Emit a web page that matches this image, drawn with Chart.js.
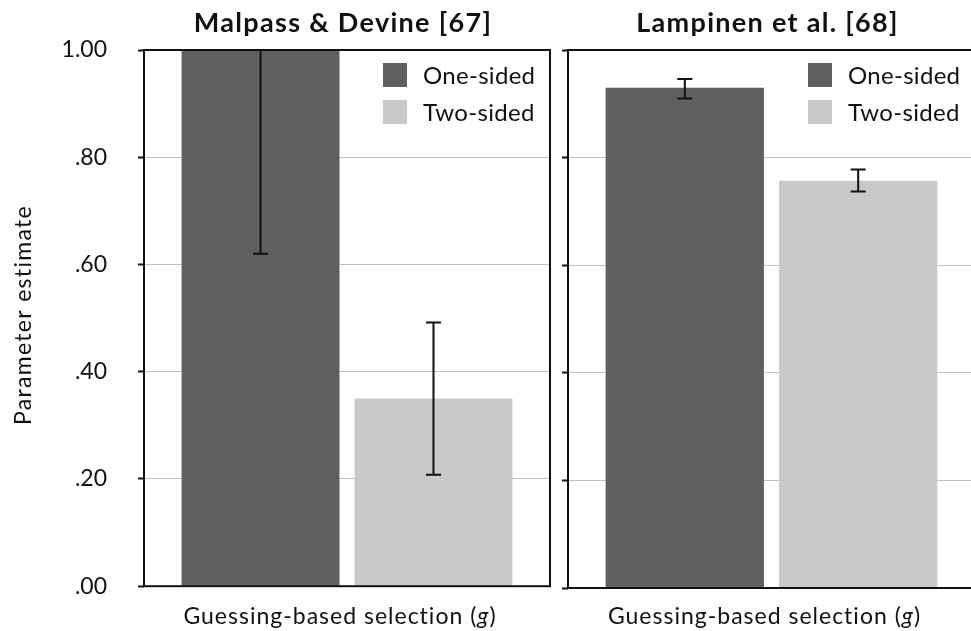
<!DOCTYPE html>
<html>
<head>
<meta charset="utf-8">
<script src="https://cdn.jsdelivr.net/npm/chart.js@4.4.0/dist/chart.umd.min.js"></script>
<style>
  html, body { margin: 0; padding: 0; background: #fff; }
  #wrap { position: relative; width: 971px; height: 631px; overflow: hidden; }
  .panel { position: absolute; top: 0; height: 631px; }
  #left { left: 0; width: 556px; }
  #right { left: 556px; width: 425px; }
</style>
</head>
<body>
<div id="wrap">
  <div class="panel" id="left"><canvas id="c1"></canvas></div>
  <div class="panel" id="right"><canvas id="c2"></canvas></div>
</div>
<script>
// data, index 0 = left panel, 1 = right panel
const panelTitles = ['Malpass & Devine [67]', 'Lampinen et al. [68]'];
const categories = ['Guessing-based selection (g)'];
const seriesNames = ['One-sided', 'Two-sided'];
const seriesColors = ['#606060', '#c9c9c9'];
const oneSidedMeans = [1.000, 0.930];
const twoSidedMeans = [0.350, 0.757];
const oneSidedLower = [0.620, 0.910];
const oneSidedUpper = [1.380, 0.946];
const twoSidedLower = [0.208, 0.737];
const twoSidedUpper = [0.492, 0.778];
const yTickValues = [0, 0.2, 0.4, 0.6, 0.8, 1.0];
const yTickLabels = ['.00', '.20', '.40', '.60', '.80', '1.00'];
const yTitle = 'Parameter estimate';

const FONT = 'Lato, "Noto Sans", sans-serif';
Chart.defaults.font.family = FONT;
Chart.defaults.color = '#111';

// error bars, clipped to the plot box
const errorBars = {
  id: 'errorBars',
  afterDatasetsDraw(chart) {
    const { ctx, chartArea: a, scales: { y } } = chart;
    ctx.save();
    ctx.beginPath();
    ctx.rect(a.left, a.top, a.right - a.left, a.bottom - a.top);
    ctx.clip();
    ctx.strokeStyle = '#111';
    ctx.lineWidth = 2;
    chart.data.datasets.forEach((ds, i) => {
      chart.getDatasetMeta(i).data.forEach((bar, j) => {
        const lo = y.getPixelForValue(ds.errLow[j]);
        const hi = y.getPixelForValue(ds.errHigh[j]);
        ctx.beginPath();
        ctx.moveTo(bar.x, lo); ctx.lineTo(bar.x, hi);
        ctx.moveTo(bar.x - 7.5, lo); ctx.lineTo(bar.x + 7.5, lo);
        ctx.moveTo(bar.x - 7.5, hi); ctx.lineTo(bar.x + 7.5, hi);
        ctx.stroke();
      });
    });
    ctx.restore();
  }
};

// frame, legend, titles and the category label with italic g
const panelDecor = {
  id: 'panelDecor',
  afterDraw(chart, args, opts) {
    const { ctx, chartArea: a } = chart;
    const cx = (a.left + a.right) / 2;
    ctx.save();
    ctx.strokeStyle = '#111';
    ctx.lineWidth = 2;
    ctx.strokeRect(a.left, a.top, a.right - a.left, a.bottom - a.top);

    ctx.textBaseline = 'middle';
    ctx.textAlign = 'left';
    ctx.font = '24px ' + FONT;
    ctx.letterSpacing = '0.3px';
    const sx = a.right - 167;
    chart.data.datasets.forEach((ds, i) => {
      const sy = a.top + 13 + i * 37;
      ctx.fillStyle = ds.backgroundColor;
      ctx.fillRect(sx, sy, 24, 24);
      ctx.fillStyle = '#111';
      ctx.fillText(ds.label, sx + 40, sy + 13);
    });

    ctx.textBaseline = 'alphabetic';
    ctx.textAlign = 'center';
    ctx.font = 'bold 27px ' + FONT;
    ctx.letterSpacing = '1.3px';
    ctx.fillText(opts.title, cx - 4, 32);

    ctx.letterSpacing = '1px';
    const m = chart.data.labels[0].match(/^(.*\()(.)(\))$/);
    const parts = [[m[1], ''], [m[2], 'italic '], [m[3], '']];
    const widths = parts.map(p => { ctx.font = p[1] + '23px ' + FONT; return ctx.measureText(p[0]).width; });
    let x = cx - 7 - widths.reduce((s, w) => s + w, 0) / 2;
    ctx.textAlign = 'left';
    parts.forEach((p, i) => {
      ctx.font = p[1] + '23px ' + FONT;
      ctx.fillText(p[0], x, 624);
      x += widths[i];
    });

    if (opts.yTitle) {
      ctx.translate(24, 315);
      ctx.rotate(-Math.PI / 2);
      ctx.textAlign = 'center';
      ctx.textBaseline = 'middle';
      ctx.font = '23px ' + FONT;
      ctx.letterSpacing = '1.3px';
      ctx.fillText(opts.yTitle, 0, 0);
    }
    ctx.restore();
  }
};

function makePanel(canvasId, k) {
  const first = k === 0;
  return new Chart(document.getElementById(canvasId), {
    type: 'bar',
    data: {
      labels: categories,
      datasets: [
        { label: seriesNames[0], data: [oneSidedMeans[k]], backgroundColor: seriesColors[0],
          errLow: [oneSidedLower[k]], errHigh: [oneSidedUpper[k]] },
        { label: seriesNames[1], data: [twoSidedMeans[k]], backgroundColor: seriesColors[1],
          errLow: [twoSidedLower[k]], errHigh: [twoSidedUpper[k]] }
      ]
    },
    options: {
      responsive: true,
      maintainAspectRatio: false,
      animation: false,
      layout: { padding: { top: 50, right: 6, bottom: 43, left: 0 } },
      datasets: { bar: { categoryPercentage: 0.852, barPercentage: 0.913, borderWidth: 0 } },
      plugins: {
        legend: { display: false },
        tooltip: { enabled: false },
        panelDecor: { title: panelTitles[k], yTitle: first ? yTitle : '' }
      },
      scales: {
        x: { display: false },
        y: {
          min: 0,
          max: 1,
          afterBuildTicks: s => { s.ticks = yTickValues.map(v => ({ value: v })); },
          afterFit: s => { s.width = first ? 144 : 12; },
          border: { display: false },
          grid: { color: '#c0c0c0', lineWidth: 1, tickColor: '#111', tickWidth: 2, tickLength: 6 },
          ticks: {
            display: first,
            padding: 31,
            font: { size: 23 },
            color: '#111',
            callback: v => yTickLabels[yTickValues.indexOf(v)]
          }
        }
      }
    },
    plugins: [errorBars, panelDecor]
  });
}

makePanel('c1', 0);
makePanel('c2', 1);
</script>
</body>
</html>
